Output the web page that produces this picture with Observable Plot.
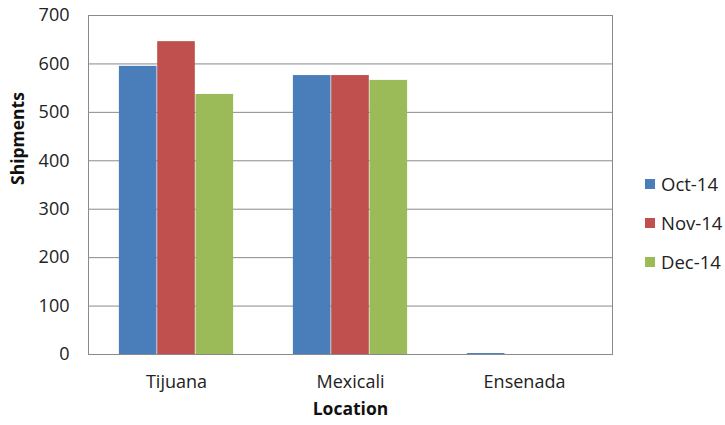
<!DOCTYPE html>
<html>
<head>
<meta charset="utf-8">
<script src="https://cdn.jsdelivr.net/npm/d3@7"></script>
<script src="https://cdn.jsdelivr.net/npm/@observablehq/plot@0.6"></script>
<style>
  html, body { margin: 0; padding: 0; background: #fff; }
  #wrap { position: relative; width: 725px; height: 425px; font-family: "Open Sans", sans-serif; }
  #legend { position: absolute; left: 645px; top: 164px; color: #222; font-size: 18.5px; white-space: nowrap; }
  .item { display: flex; align-items: center; height: 39px; }
  .sw { width: 10px; height: 10px; margin-right: 6px; flex: none; }
</style>
</head>
<body>
<div id="wrap"><div id="legend"></div></div>
<script>
const locations = ["Tijuana", "Mexicali", "Ensenada"];
const series = ["Oct-14", "Nov-14", "Dec-14"];
const oct14 = [595, 576, 2];
const nov14 = [646, 576, 0];
const dec14 = [537, 566, 0];
const yTicks = [0, 100, 200, 300, 400, 500, 600, 700];
const colors = ["#4A7EBB", "#C0504D", "#9BBB59"];
const xLabel = "Location";
const yLabel = "Shipments";

const valuesBySeries = [oct14, nov14, dec14];
const data = series.flatMap((s, j) =>
  locations.map((loc, i) => ({location: loc, series: s, value: valuesBySeries[j][i]}))
);

const W = 725, H = 425, ML = 88, MR = 113, MT = 15, MB = 71;
const bw = (W - ML - MR) / locations.length;
const barW = 38.3;

const barMarks = series.map((s, j) => {
  const off = (j - 1) * barW;
  const side = (bw - barW) / 2;
  return Plot.barY(data.filter(d => d.series === s), {
    x: "location", y: "value", fill: "series",
    insetLeft: side + off, insetRight: side - off
  });
});

const chart = Plot.plot({
  width: W, height: H,
  marginLeft: ML, marginRight: MR, marginTop: MT, marginBottom: MB,
  style: {fontFamily: "Open Sans, sans-serif", fontSize: "18px", color: "#222", background: "transparent"},
  x: {domain: locations, padding: 0, label: null},
  y: {domain: [0, 700], label: null},
  color: {domain: series, range: colors},
  marks: [
    Plot.gridY(yTicks, {stroke: "#8a8a8a", strokeOpacity: 1}),
    ...barMarks,
    Plot.frame({stroke: "#8a8a8a"}),
    Plot.axisY(yTicks, {tickSize: 0, tickPadding: 19, label: null, fontSize: 18, fill: "#222"}),
    Plot.axisX({tickSize: 0, tickPadding: 21, label: null, fontSize: 18, fill: "#222"}),
    Plot.text([xLabel], {frameAnchor: "bottom", dy: 60, fontWeight: "bold", fontSize: 17.5, fill: "#111"}),
    Plot.text([yLabel], {frameAnchor: "left", dx: -70, rotate: -90, fontWeight: "bold", fontSize: 17.5, fill: "#111"})
  ]
});

const wrap = document.getElementById("wrap");
wrap.insertBefore(chart, wrap.firstChild);

const legend = document.getElementById("legend");
series.forEach((s, j) => {
  const item = document.createElement("div");
  item.className = "item";
  const sw = document.createElement("span");
  sw.className = "sw";
  sw.style.background = colors[j];
  const t = document.createElement("span");
  t.textContent = s;
  item.appendChild(sw);
  item.appendChild(t);
  legend.appendChild(item);
});
</script>
</body>
</html>
